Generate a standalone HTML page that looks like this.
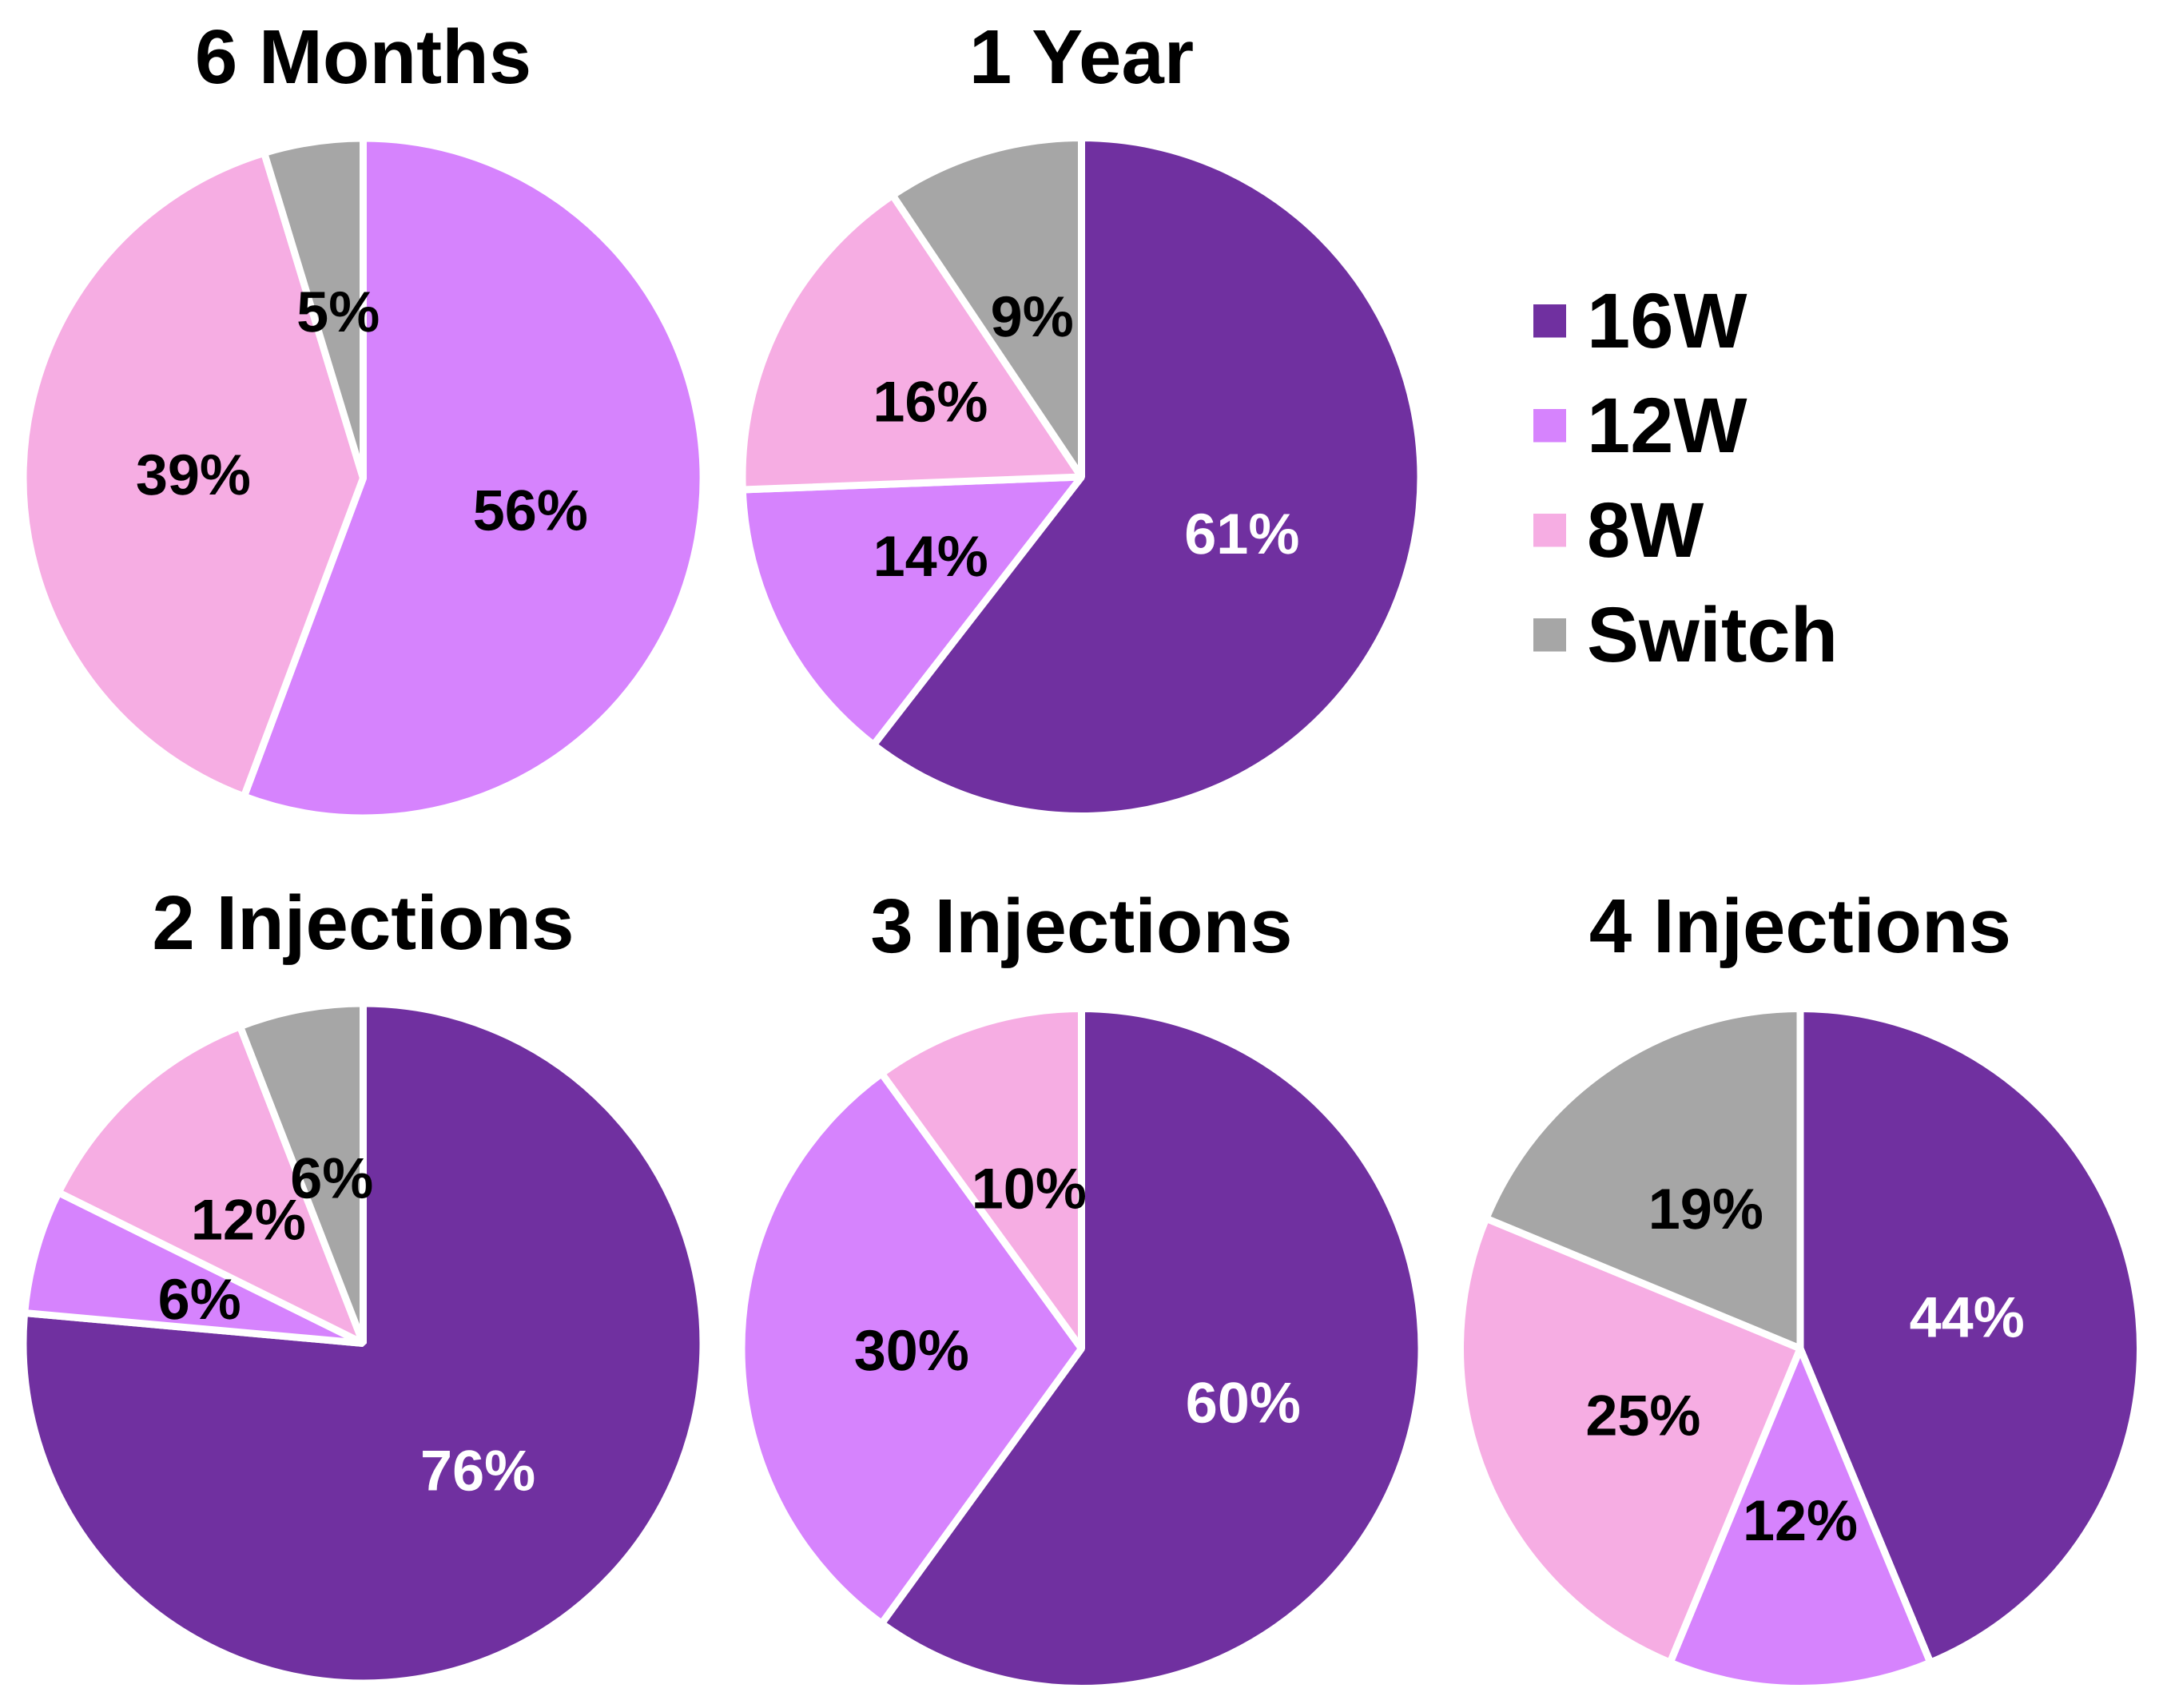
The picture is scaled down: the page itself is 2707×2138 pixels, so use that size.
<!DOCTYPE html>
<html lang="en">
<head>
<meta charset="utf-8">
<title>Dose distribution pie charts</title>
<style>
  html, body { margin: 0; padding: 0; background: #ffffff; }
  svg { display: block; }
  text { font-family: "Liberation Sans", Arial, sans-serif; font-weight: 700; text-rendering: geometricPrecision; }
</style>
</head>
<body>
<svg id="chart" xmlns="http://www.w3.org/2000/svg" width="2707" height="2138" viewBox="0 0 2707 2138">
  <rect x="0" y="0" width="2707" height="2138" fill="#ffffff"/>
</svg>
<script>
// Chart data
const categories = ["16W", "12W", "8W", "Switch"];
const panelTitles = ["6 Months", "1 Year", "2 Injections", "3 Injections", "4 Injections"];
const sixMonthValues = [0, 55.7, 39.6, 4.7];
const oneYearValues = [60.5, 13.9, 16.2, 9.4];
const twoInjectionValues = [76.5, 5.9, 11.8, 5.9];
const threeInjectionValues = [60, 30, 10, 0];
const fourInjectionValues = [43.75, 12.5, 25, 18.75];
const sixMonthLabels = ["", "56%", "39%", "5%"];
const oneYearLabels = ["61%", "14%", "16%", "9%"];
const twoInjectionLabels = ["76%", "6%", "12%", "6%"];
const threeInjectionLabels = ["60%", "30%", "10%", ""];
const fourInjectionLabels = ["44%", "12%", "25%", "19%"];

// Presentation
const seriesColors = ["#7030a0", "#d683fd", "#f6ade3", "#a6a6a6"];
const labelColors = ["#ffffff", "#000000", "#000000", "#000000"];
const panelValues = [sixMonthValues, oneYearValues, twoInjectionValues, threeInjectionValues, fourInjectionValues];
const panelLabels = [sixMonthLabels, oneYearLabels, twoInjectionLabels, threeInjectionLabels, fourInjectionLabels];
const panelLayout = [
  { cx: 454.5, cy: 598.5, r: 425.5, titleY: 104 },
  { cx: 1353.5, cy: 597, r: 424.5, titleY: 104 },
  { cx: 454.5, cy: 1681.5, r: 425.5, titleY: 1188 },
  { cx: 1353.5, cy: 1688, r: 425.5, titleY: 1192 },
  { cx: 2253, cy: 1688, r: 425.5, titleY: 1192 }
];
const SVG_NS = "http://www.w3.org/2000/svg";
const svg = document.getElementById("chart");
const gapWidth = 9;
const titleSize = 96;
const labelSize = 72;
const legendSize = 97.5;
const labelBaselineOffset = 27;

function angleScale(value, total) {
  return (value / total) * Math.PI * 2;
}
function polarX(cx, r, angle) {
  return cx + r * Math.sin(angle);
}
function polarY(cy, r, angle) {
  return cy - r * Math.cos(angle);
}
function slugify(text) {
  return text.toLowerCase().replace(/[^a-z0-9]+/g, "-");
}
function makeNode(tag) {
  return document.createElementNS(SVG_NS, tag);
}

panelValues.forEach(function (values, p) {
  const layout = panelLayout[p];
  const radius = layout.r;
  const slug = slugify(panelTitles[p]);
  const total = values.reduce(function (a, b) { return a + b; }, 0);

  const group = makeNode("g");
  
  
  svg.appendChild(group);

  const title = makeNode("text");
  
  
  title.setAttribute("x", layout.cx);
  title.setAttribute("y", layout.titleY);
  title.setAttribute("text-anchor", "middle");
  title.setAttribute("font-size", titleSize);
  title.textContent = panelTitles[p];
  group.appendChild(title);

  let cumulative = 0;
  const labelNodes = [];
  values.forEach(function (value, i) {
    if (value <= 0) return;
    const start = angleScale(cumulative, total);
    const end = angleScale(cumulative + value, total);
    const mid = (start + end) / 2;
    cumulative += value;

    const largeArc = end - start > Math.PI ? 1 : 0;
    const d = "M" + layout.cx + " " + layout.cy +
      "L" + polarX(layout.cx, radius, start).toFixed(2) + " " + polarY(layout.cy, radius, start).toFixed(2) +
      "A" + radius + " " + radius + " 0 " + largeArc + " 1 " +
      polarX(layout.cx, radius, end).toFixed(2) + " " + polarY(layout.cy, radius, end).toFixed(2) + "Z";

    const slice = makeNode("path");
    
    
    slice.setAttribute("d", d);
    slice.setAttribute("fill", seriesColors[i]);
    slice.setAttribute("stroke", "#ffffff");
    slice.setAttribute("stroke-width", gapWidth);
    slice.setAttribute("stroke-linejoin", "bevel");
    group.appendChild(slice);

    const label = makeNode("text");
    
    
    label.setAttribute("x", polarX(layout.cx, radius * 0.5, mid).toFixed(1));
    label.setAttribute("y", (polarY(layout.cy, radius * 0.5, mid) + labelBaselineOffset).toFixed(1));
    label.setAttribute("text-anchor", "middle");
    label.setAttribute("font-size", labelSize);
    label.setAttribute("fill", labelColors[i]);
    label.textContent = panelLabels[p][i];
    labelNodes.push(label);
  });
  labelNodes.forEach(function (node) { group.appendChild(node); });
});

const legend = makeNode("g");


svg.appendChild(legend);

categories.forEach(function (name, i) {
  const rowTop = 381 + i * 131;

  const entry = makeNode("g");
  
  
  legend.appendChild(entry);

  const swatch = makeNode("rect");
  
  
  swatch.setAttribute("x", 1919);
  swatch.setAttribute("y", rowTop);
  swatch.setAttribute("width", 41);
  swatch.setAttribute("height", 41.5);
  swatch.setAttribute("fill", seriesColors[i]);
  entry.appendChild(swatch);

  const text = makeNode("text");
  
  
  text.setAttribute("x", 1986);
  text.setAttribute("y", rowTop + 54);
  text.setAttribute("font-size", legendSize);
  text.textContent = name;
  entry.appendChild(text);
});
</script>
</body>
</html>
